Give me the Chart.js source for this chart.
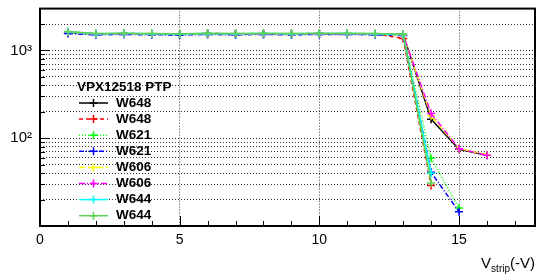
<!DOCTYPE html>
<html>
<head>
<meta charset="utf-8">
<script src="https://cdn.jsdelivr.net/npm/chart.js@4"></script>
<style>
  body { margin: 0; background: #fff; }
  #wrap { width: 548px; height: 278px; }
</style>
</head>
<body>
<div id="wrap"><canvas id="myPlot1"></canvas></div>
<script>
// strip voltage (-V)
const xValues = [1, 2, 3, 4, 5, 6, 7, 8, 9, 10, 11, 12, 13, 14, 15, 16]

const w648a = [1600, 1540, 1550, 1540, 1530, 1550, 1540, 1550, 1540, 1550, 1550, 1540, 1520, 165, 75, 64]
const w648b = [1620, 1550, 1560, 1550, 1540, 1560, 1550, 1550, 1550, 1560, 1550, 1550, 1370, 29]
const w621a = [1590, 1530, 1540, 1530, 1520, 1540, 1530, 1540, 1530, 1540, 1540, 1530, 1500, 59, 16]
const w621b = [1560, 1510, 1520, 1510, 1500, 1520, 1510, 1520, 1510, 1520, 1520, 1510, 1480, 41, 14.5]
const w606a = [1610, 1540, 1550, 1540, 1530, 1550, 1540, 1550, 1540, 1550, 1550, 1540, 1490, 180, 76, 65]
const w606b = [1620, 1545, 1555, 1545, 1535, 1555, 1545, 1555, 1545, 1555, 1555, 1545, 1500, 192, 76, 64]
const w644a = [1630, 1550, 1560, 1550, 1540, 1560, 1550, 1560, 1550, 1560, 1560, 1550, 1510, 40]
const w644b = [1640, 1560, 1570, 1560, 1550, 1570, 1560, 1570, 1560, 1575, 1570, 1560, 1530, 31]

const seriesNames = ['W648', 'W648', 'W621', 'W621', 'W606', 'W606', 'W644', 'W644']
const seriesValues = [w648a, w648b, w621a, w621b, w606a, w606b, w644a, w644b]
const seriesColors = ['#000000', '#ff0000', '#00ff00', '#0000ff', '#ffff00', '#ff00ff', '#00ffff', '#59d454']
const seriesDash = [[], [4, 3], [1, 2], [5, 2, 1, 2], [6, 3], [6, 2, 1, 2], [], []]

const legendTitle = 'VPX12518 PTP'
const xMajor = [5, 10, 15]
const xTicks = [0, 1, 2, 3, 4, 5, 6, 7, 8, 9, 10, 11, 12, 13, 14, 15, 16, 17]
const yTicks = [20, 30, 40, 50, 60, 70, 80, 90, 100, 200, 300, 400, 500, 600, 700, 800, 900, 1000, 2000]
const yLabels = {100: '10\u00b2', 1000: '10\u00b3'}

const FONT = 'Liberation Sans, Arial, sans-serif'

const datasets = seriesValues.map((vals, i) => ({
  label: seriesNames[i],
  data: vals.map((v, k) => ({x: xValues[k], y: v})),
  borderColor: seriesColors[i],
  backgroundColor: seriesColors[i],
  borderWidth: 1.5,
  borderDash: seriesDash[i],
  pointStyle: 'cross',
  pointRadius: 4,
  pointBorderWidth: 1.5,
  tension: 0,
  order: seriesValues.length - i
}))

const rootStyle = {
  id: 'rootStyle',
  afterDraw: (chart) => {
    const {ctx, chartArea} = chart
    const xs = chart.scales.x
    const ys = chart.scales.y
    ctx.save()
    // inner tick marks
    ctx.strokeStyle = '#000'
    ctx.lineWidth = 1
    ctx.setLineDash([])
    ctx.beginPath()
    xTicks.forEach(t => {
      const px = Math.round(xs.getPixelForValue(t)) + 0.5
      const len = xMajor.includes(t) || t === 0 ? 10 : 5
      ctx.moveTo(px, chartArea.bottom)
      ctx.lineTo(px, chartArea.bottom - len)
    })
    yTicks.forEach(t => {
      const py = Math.round(ys.getPixelForValue(t)) + 0.5
      const len = yLabels[t] ? 10 : 5
      ctx.moveTo(chartArea.left, py)
      ctx.lineTo(chartArea.left + len, py)
    })
    ctx.stroke()

    // frame
    ctx.lineWidth = 2
    ctx.strokeRect(chartArea.left, chartArea.top, chartArea.right - chartArea.left, chartArea.bottom - chartArea.top)

    // legend
    const lx = 79, lw = 29, tx = 116
    let y = 87
    ctx.fillStyle = '#000'
    ctx.font = 'bold 13.5px ' + FONT
    ctx.textBaseline = 'middle'
    ctx.textAlign = 'left'
    ctx.fillText(legendTitle, 77, y)
    chart.data.datasets.forEach((ds, i) => {
      y = 103 + i * 16.1
      ctx.strokeStyle = ds.borderColor
      ctx.lineWidth = 1.5
      ctx.setLineDash(ds.borderDash)
      ctx.beginPath()
      ctx.moveTo(lx, y)
      ctx.lineTo(lx + lw, y)
      ctx.stroke()
      ctx.setLineDash([])
      ctx.beginPath()
      ctx.moveTo(lx + lw / 2 - 4, y)
      ctx.lineTo(lx + lw / 2 + 4, y)
      ctx.moveTo(lx + lw / 2, y - 4)
      ctx.lineTo(lx + lw / 2, y + 4)
      ctx.stroke()
      ctx.fillStyle = '#000'
      ctx.fillText(ds.label, tx, y)
    })

    // x axis title with subscript
    ctx.textBaseline = 'alphabetic'
    ctx.textAlign = 'left'
    const big = '15px ' + FONT
    const small = '10px ' + FONT
    ctx.font = big
    const wV = ctx.measureText('V').width
    const wTail = ctx.measureText('(-V)').width
    ctx.font = small
    const wSub = ctx.measureText('strip').width
    let x0 = chartArea.right - (wV + wSub + wTail)
    const base = 268
    ctx.font = big
    ctx.fillText('V', x0, base)
    ctx.font = small
    ctx.fillText('strip', x0 + wV, base + 4)
    ctx.font = big
    ctx.fillText('(-V)', x0 + wV + wSub, base)
    ctx.restore()
  }
}

new Chart('myPlot1', {
  type: 'line',
  data: {datasets: datasets},
  options: {
    responsive: true,
    maintainAspectRatio: false,
    animation: false,
    layout: {padding: {top: 8, right: 13, left: 0, bottom: 0}},
    scales: {
      x: {
        type: 'linear',
        min: 0,
        max: 17.72,
        afterBuildTicks: (scale) => { scale.ticks = xTicks.map(v => ({value: v})) },
        afterFit: (scale) => { scale.height = 52 },
        border: {display: false, dash: [1, 2]},
        grid: {
          drawTicks: false,
          color: (c) => (c.tick && xMajor.includes(c.tick.value)) ? '#333' : 'rgba(0,0,0,0)',
          lineWidth: 1
        },
        ticks: {
          autoSkip: false,
          maxRotation: 0,
          padding: 6,
          color: '#000',
          font: {family: FONT, size: 14},
          callback: (v) => (v % 5 === 0 ? String(v) : '')
        }
      },
      y: {
        type: 'logarithmic',
        min: 10,
        max: 3000,
        afterBuildTicks: (scale) => { scale.ticks = yTicks.map(v => ({value: v})) },
        afterFit: (scale) => { scale.width = 40 },
        border: {display: false, dash: [1, 2]},
        grid: {
          drawTicks: false,
          color: '#333',
          lineWidth: 1
        },
        ticks: {
          autoSkip: false,
          padding: 8,
          color: '#000',
          font: (c) => ({family: FONT, size: (c.tick && yLabels[c.tick.value]) ? 15 : 1}),
          callback: (v) => yLabels[v] || ''
        }
      }
    },
    plugins: {
      legend: {display: false},
      tooltip: {enabled: false}
    }
  },
  plugins: [rootStyle]
})
</script>
</body>
</html>
